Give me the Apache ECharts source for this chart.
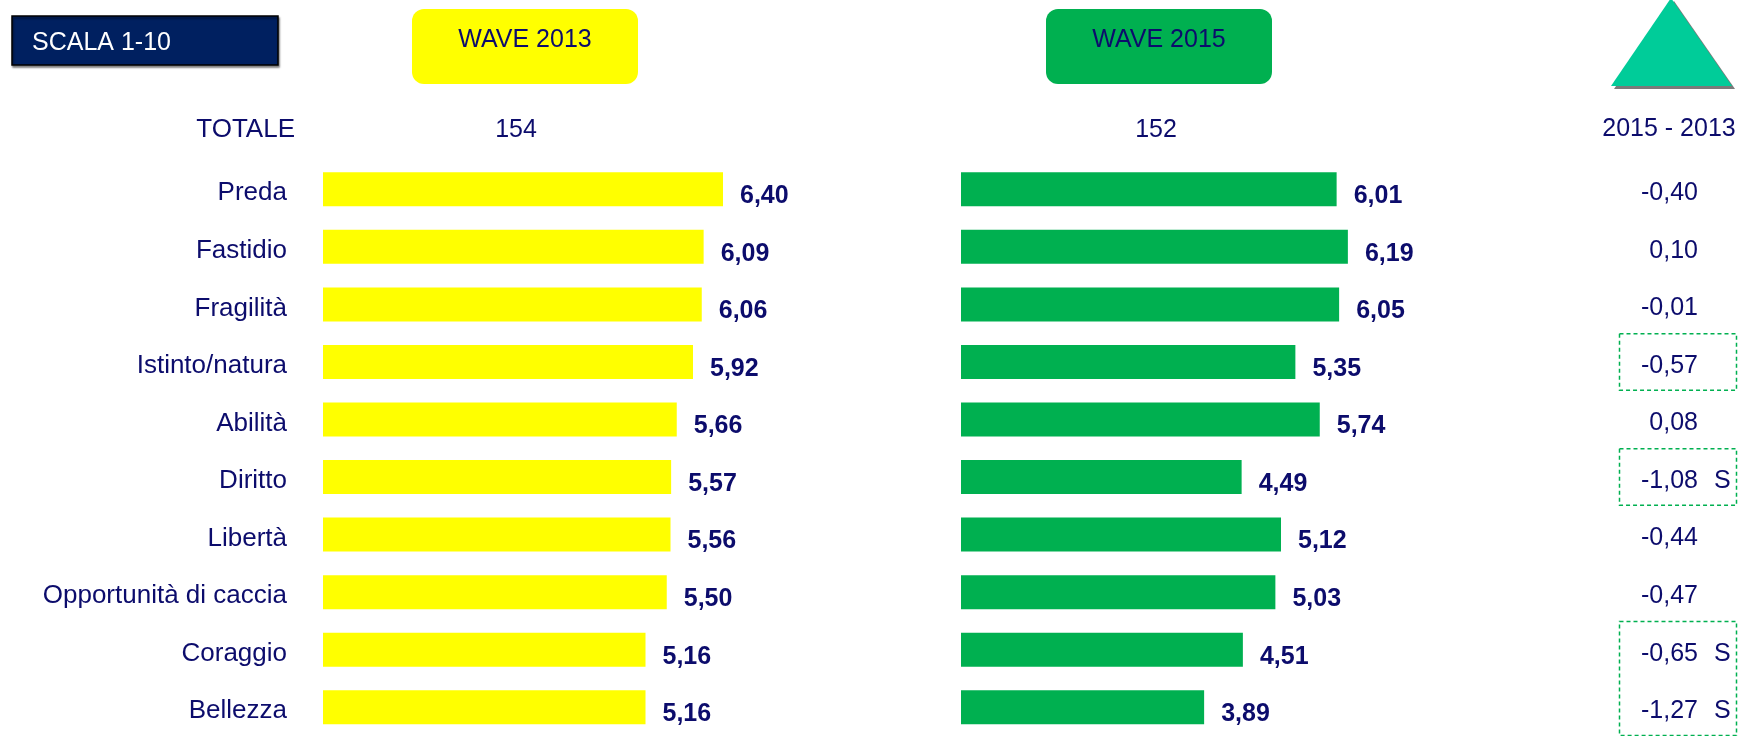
<!DOCTYPE html>
<html>
<head>
<meta charset="utf-8">
<script src="https://cdn.jsdelivr.net/npm/echarts@6/dist/echarts.min.js"></script>
<style>
  html, body { margin: 0; padding: 0; background: #fff; }
  #chart { width: 1742px; height: 736px; }
</style>
</head>
<body>
<div id="chart"></div>
<script>
// dati
var categories = ['Preda', 'Fastidio', 'Fragilità', 'Istinto/natura', 'Abilità', 'Diritto', 'Libertà', 'Opportunità di caccia', 'Coraggio', 'Bellezza'];
var wave2013 = [6.40, 6.09, 6.06, 5.92, 5.66, 5.57, 5.56, 5.50, 5.16, 5.16];
var wave2015 = [6.01, 6.19, 6.05, 5.35, 5.74, 4.49, 5.12, 5.03, 4.51, 3.89];
var delta = [-0.40, 0.10, -0.01, -0.57, 0.08, -1.08, -0.44, -0.47, -0.65, -1.27];
var signif = ['', '', '', '', '', 'S', '', '', 'S', 'S'];
// righe con riquadro tratteggiato [da, a]
var boxes = [[3, 3], [5, 5], [8, 9]];
var totals = [154, 152];

var NAVY = '#0c0c6c';
var FONT = 'Liberation Sans, Arial, sans-serif';

function fmt(v) {
    return v.toFixed(2).replace('.', ',');
}

var chart = echarts.init(document.getElementById('chart'));

var barLabel = {
    show: true,
    position: 'right',
    distance: 17,
    offset: [0, 7],
    color: NAVY,
    fontFamily: FONT,
    fontWeight: 'bold',
    fontSize: 25,
    formatter: function (p) { return fmt(p.value); }
};

function yAxis(idx, showLabel) {
    return {
        type: 'category',
        gridIndex: idx,
        data: categories,
        inverse: true,
        axisLine: { show: false },
        axisTick: { show: false },
        splitLine: { show: false },
        axisLabel: {
            show: showLabel,
            margin: 36,
            formatter: function (v) { return '{a|' + v + '}'; },
            rich: {
                a: {
                    color: NAVY,
                    fontFamily: FONT,
                    fontSize: 26,
                    padding: [8, 0, 0, 0]
                }
            }
        }
    };
}

function xAxis(idx, max) {
    return {
        type: 'value',
        gridIndex: idx,
        min: 0,
        max: max,
        show: false
    };
}

var option = {
    animation: false,
    backgroundColor: '#fff',
    grid: [
        { left: 323, top: 160.5, width: 625, height: 583 },
        { left: 961, top: 160.5, width: 625, height: 583 },
        { left: 1619, top: 160.5, width: 118, height: 583 }
    ],
    xAxis: [xAxis(0, 10), xAxis(1, 10), xAxis(2, 1)],
    yAxis: [yAxis(0, true), yAxis(1, false), yAxis(2, false)],
    series: [
        {
            type: 'bar',
            xAxisIndex: 0,
            yAxisIndex: 0,
            data: wave2013,
            barWidth: 34,
            itemStyle: { color: '#ffff00' },
            label: barLabel
        },
        {
            type: 'bar',
            xAxisIndex: 1,
            yAxisIndex: 1,
            data: wave2015,
            barWidth: 34,
            itemStyle: { color: '#00b050' },
            label: barLabel
        },
        {
            // differenza 2015 - 2013
            type: 'custom',
            xAxisIndex: 2,
            yAxisIndex: 2,
            data: delta.map(function (d, i) { return [0, i]; }),
            renderItem: function (params, api) {
                var i = api.value(1);
                var cs = params.coordSys;
                var y = api.coord([0, i])[1];
                var children = [{
                    type: 'text',
                    style: {
                        x: cs.x + 79,
                        y: y + 4,
                        text: fmt(delta[i]),
                        fill: NAVY,
                        font: '25px ' + FONT,
                        textAlign: 'right',
                        textVerticalAlign: 'middle'
                    }
                }];
                if (signif[i]) {
                    children.push({
                        type: 'text',
                        style: {
                            x: cs.x + 95,
                            y: y + 4,
                            text: signif[i],
                            fill: NAVY,
                            font: '25px ' + FONT,
                            textAlign: 'left',
                            textVerticalAlign: 'middle'
                        }
                    });
                }
                return { type: 'group', children: children };
            }
        },
        {
            // riquadri significatività
            type: 'custom',
            xAxisIndex: 2,
            yAxisIndex: 2,
            data: boxes.map(function (b) { return [0, b[0], b[1]]; }),
            encode: { x: 0, y: 1 },
            renderItem: function (params, api) {
                var cs = params.coordSys;
                var band = api.size([0, 1])[1];
                var top = api.coord([0, api.value(1)])[1] - band / 2;
                var bottom = api.coord([0, api.value(2)])[1] + band / 2;
                return {
                    type: 'rect',
                    shape: { x: cs.x + 0.5, y: top + 0.5, width: cs.width - 1, height: bottom - top - 1 },
                    style: {
                        fill: 'none',
                        stroke: '#00b050',
                        lineWidth: 1.5,
                        lineDash: [4, 3]
                    }
                };
            }
        }
    ],
    graphic: [
        {
            type: 'rect',
            shape: { x: 12, y: 16, width: 266, height: 49 },
            style: {
                fill: '#002060',
                stroke: '#000',
                lineWidth: 1.5,
                shadowColor: 'rgba(0,0,0,0.45)',
                shadowBlur: 2,
                shadowOffsetX: 1,
                shadowOffsetY: 2
            }
        },
        {
            type: 'text',
            style: {
                x: 32, y: 43, text: 'SCALA 1-10', fill: '#fff',
                font: '25px ' + FONT, textVerticalAlign: 'middle'
            }
        },
        {
            type: 'rect',
            shape: { x: 412, y: 9, width: 226, height: 75, r: 12 },
            style: { fill: '#ffff00' }
        },
        {
            type: 'text',
            style: {
                x: 525, y: 40, text: 'WAVE 2013', fill: NAVY,
                font: '25px ' + FONT, textAlign: 'center', textVerticalAlign: 'middle'
            }
        },
        {
            type: 'rect',
            shape: { x: 1046, y: 9, width: 226, height: 75, r: 12 },
            style: { fill: '#00b050' }
        },
        {
            type: 'text',
            style: {
                x: 1159, y: 40, text: 'WAVE 2015', fill: NAVY,
                font: '25px ' + FONT, textAlign: 'center', textVerticalAlign: 'middle'
            }
        },
        {
            type: 'polygon',
            shape: { points: [[1674, 1], [1614, 89], [1735, 89]] },
            style: { fill: '#7a7a7a' }
        },
        {
            type: 'polygon',
            shape: { points: [[1671, -2], [1611, 86], [1732, 86]] },
            style: { fill: '#00cc99' }
        },
        {
            type: 'text',
            style: {
                x: 1669, y: 129, text: '2015 - 2013', fill: NAVY,
                font: '25px ' + FONT, textAlign: 'center', textVerticalAlign: 'middle'
            }
        },
        {
            type: 'text',
            style: {
                x: 295, y: 130, text: 'TOTALE', fill: NAVY,
                font: '26px ' + FONT, textAlign: 'right', textVerticalAlign: 'middle'
            }
        },
        {
            type: 'text',
            style: {
                x: 516, y: 130, text: String(totals[0]), fill: NAVY,
                font: '25px ' + FONT, textAlign: 'center', textVerticalAlign: 'middle'
            }
        },
        {
            type: 'text',
            style: {
                x: 1156, y: 130, text: String(totals[1]), fill: NAVY,
                font: '25px ' + FONT, textAlign: 'center', textVerticalAlign: 'middle'
            }
        }
    ]
};

chart.setOption(option);
</script>
</body>
</html>
